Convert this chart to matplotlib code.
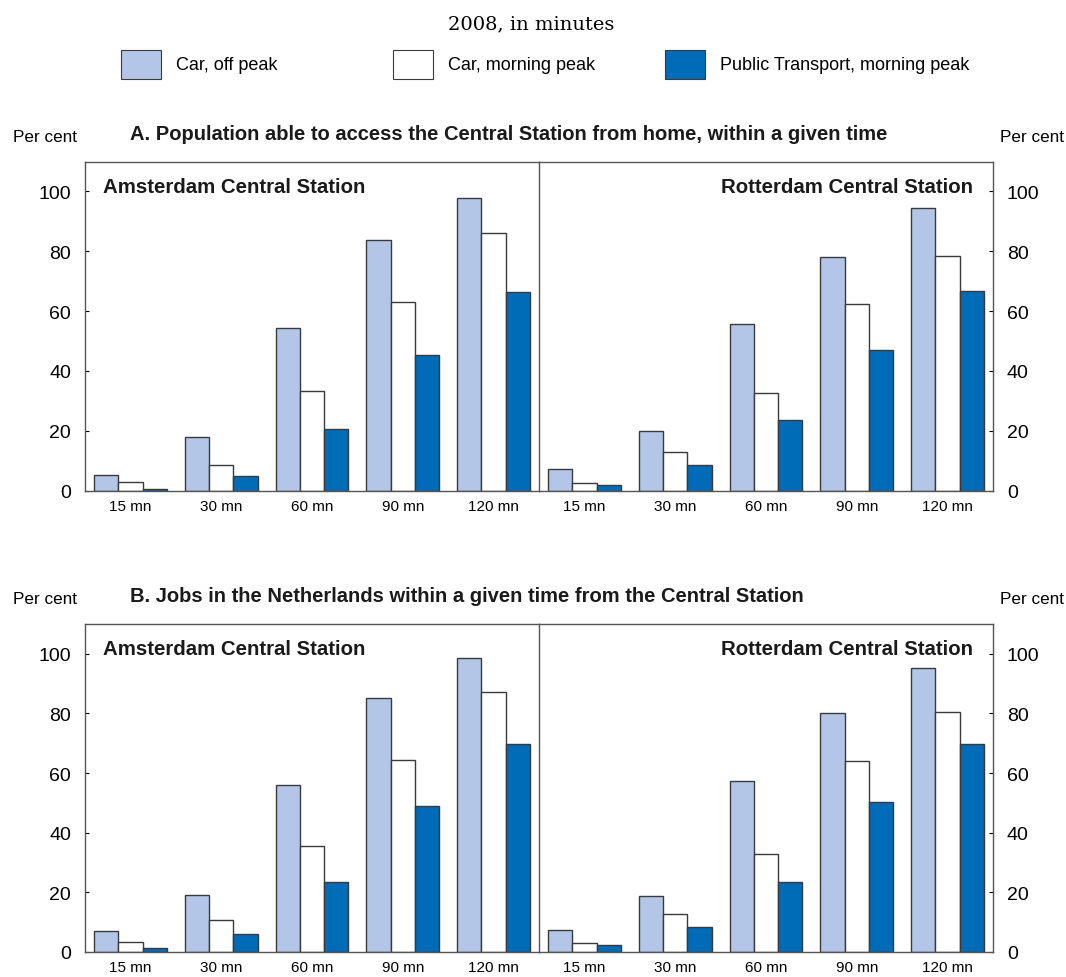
import matplotlib.pyplot as plt
import numpy as np
from matplotlib.patches import Rectangle

plt.rcParams["font.family"] = ["Liberation Sans", "DejaVu Sans"]

categories = ["15 mn", "30 mn", "60 mn", "90 mn", "120 mn"]
series_names = ["Car, off peak", "Car, morning peak", "Public Transport, morning peak"]
series_colors = ["#b3c6e7", "#ffffff", "#006bb6"]

# Panel A: population able to access the central station
pop_ams_car_off = [5.4, 17.8, 54.4, 83.8, 97.7]
pop_ams_car_peak = [2.8, 8.7, 33.3, 62.9, 86.1]
pop_ams_pt_peak = [0.7, 4.8, 20.6, 45.4, 66.4]
pop_rot_car_off = [7.2, 20.0, 55.7, 78.2, 94.4]
pop_rot_car_peak = [2.6, 12.8, 32.7, 62.3, 78.4]
pop_rot_pt_peak = [2.0, 8.6, 23.6, 47.0, 66.8]

# Panel B: jobs reachable from the central station
jobs_ams_car_off = [7.0, 19.2, 56.0, 85.3, 98.5]
jobs_ams_car_peak = [3.4, 10.8, 35.5, 64.5, 87.3]
jobs_ams_pt_peak = [1.5, 6.0, 23.5, 48.8, 69.7]
jobs_rot_car_off = [7.3, 18.9, 57.2, 80.3, 95.3]
jobs_rot_car_peak = [3.0, 12.7, 32.8, 64.0, 80.6]
jobs_rot_pt_peak = [2.3, 8.3, 23.4, 50.3, 69.6]

W, H = 1066, 978
EDGE = "#3a3a3a"


def fx(px):
    return px / W


def fy(py):
    return 1 - py / H


def draw_bars(ax, values):
    x = np.arange(len(categories))
    width = 0.8 / 3
    for i, (vals, color) in enumerate(zip(values, series_colors)):
        ax.bar(x + (i - 1) * width, vals, width=width, color=color,
               edgecolor=EDGE, linewidth=1.0, zorder=2)
    ax.set_xlim(-0.5, len(categories) - 0.5)
    ax.set_ylim(0, 110)
    ax.set_xticks(x)
    ax.set_xticklabels(categories, fontsize=11)
    ax.tick_params(axis="x", length=0, pad=6)
    for s in ax.spines.values():
        s.set_color("#555555")
        s.set_linewidth(1.0)


def draw_panel(top_px, bottom_px, left_vals, right_vals, title):
    bottom = fy(bottom_px)
    height = (bottom_px - top_px) / H
    ax_l = fig.add_axes([fx(85), bottom, fx(454), height])
    ax_r = fig.add_axes([fx(539), bottom, fx(454), height])
    draw_bars(ax_l, left_vals)
    draw_bars(ax_r, right_vals)

    ticks = np.arange(0, 101, 20)
    ax_l.set_yticks(ticks)
    ax_l.tick_params(axis="y", direction="in", length=3, labelsize=14, pad=10)
    ax_l.spines["right"].set_visible(False)

    ax_r.set_yticks(ticks)
    ax_r.yaxis.tick_right()
    ax_r.tick_params(axis="y", direction="in", length=3, labelsize=14, pad=10)

    ax_l.text(0.04, 0.925, "Amsterdam Central Station", transform=ax_l.transAxes,
              fontsize=14.7, fontweight="bold", ha="left", va="center", color="#1a1a1a")
    ax_r.text(0.955, 0.925, "Rotterdam Central Station", transform=ax_r.transAxes,
              fontsize=14.7, fontweight="bold", ha="right", va="center", color="#1a1a1a")

    label_y = fy(top_px - 25)
    fig.text(fx(130), fy(top_px - 28), title, fontsize=14.5, fontweight="bold",
             ha="left", va="center", color="#1a1a1a")
    fig.text(fx(45), label_y, "Per cent", fontsize=12.3, ha="center", va="center")
    fig.text(fx(1032), label_y, "Per cent", fontsize=12.3, ha="center", va="center")


fig = plt.figure(figsize=(W / 100, H / 100), dpi=100)

fig.text(fx(531), fy(24), "2008, in minutes", fontsize=14,
         family=["DejaVu Serif"], ha="center", va="center")

# legend row
for i, (name, color) in enumerate(zip(series_names, series_colors)):
    x0 = 121 + i * 272
    fig.patches.append(Rectangle((fx(x0), fy(80)), fx(40), 29 / H,
                                 transform=fig.transFigure, facecolor=color,
                                 edgecolor=EDGE, linewidth=0.8))
    fig.text(fx(x0 + 55), fy(66), name, fontsize=13, ha="left", va="center")

draw_panel(162.5, 491.7,
           [pop_ams_car_off, pop_ams_car_peak, pop_ams_pt_peak],
           [pop_rot_car_off, pop_rot_car_peak, pop_rot_pt_peak],
           "A. Population able to access the Central Station from home, within a given time")
draw_panel(625, 953,
           [jobs_ams_car_off, jobs_ams_car_peak, jobs_ams_pt_peak],
           [jobs_rot_car_off, jobs_rot_car_peak, jobs_rot_pt_peak],
           "B. Jobs in the Netherlands within a given time from the Central Station")

fig.savefig("out.png", dpi=100)
